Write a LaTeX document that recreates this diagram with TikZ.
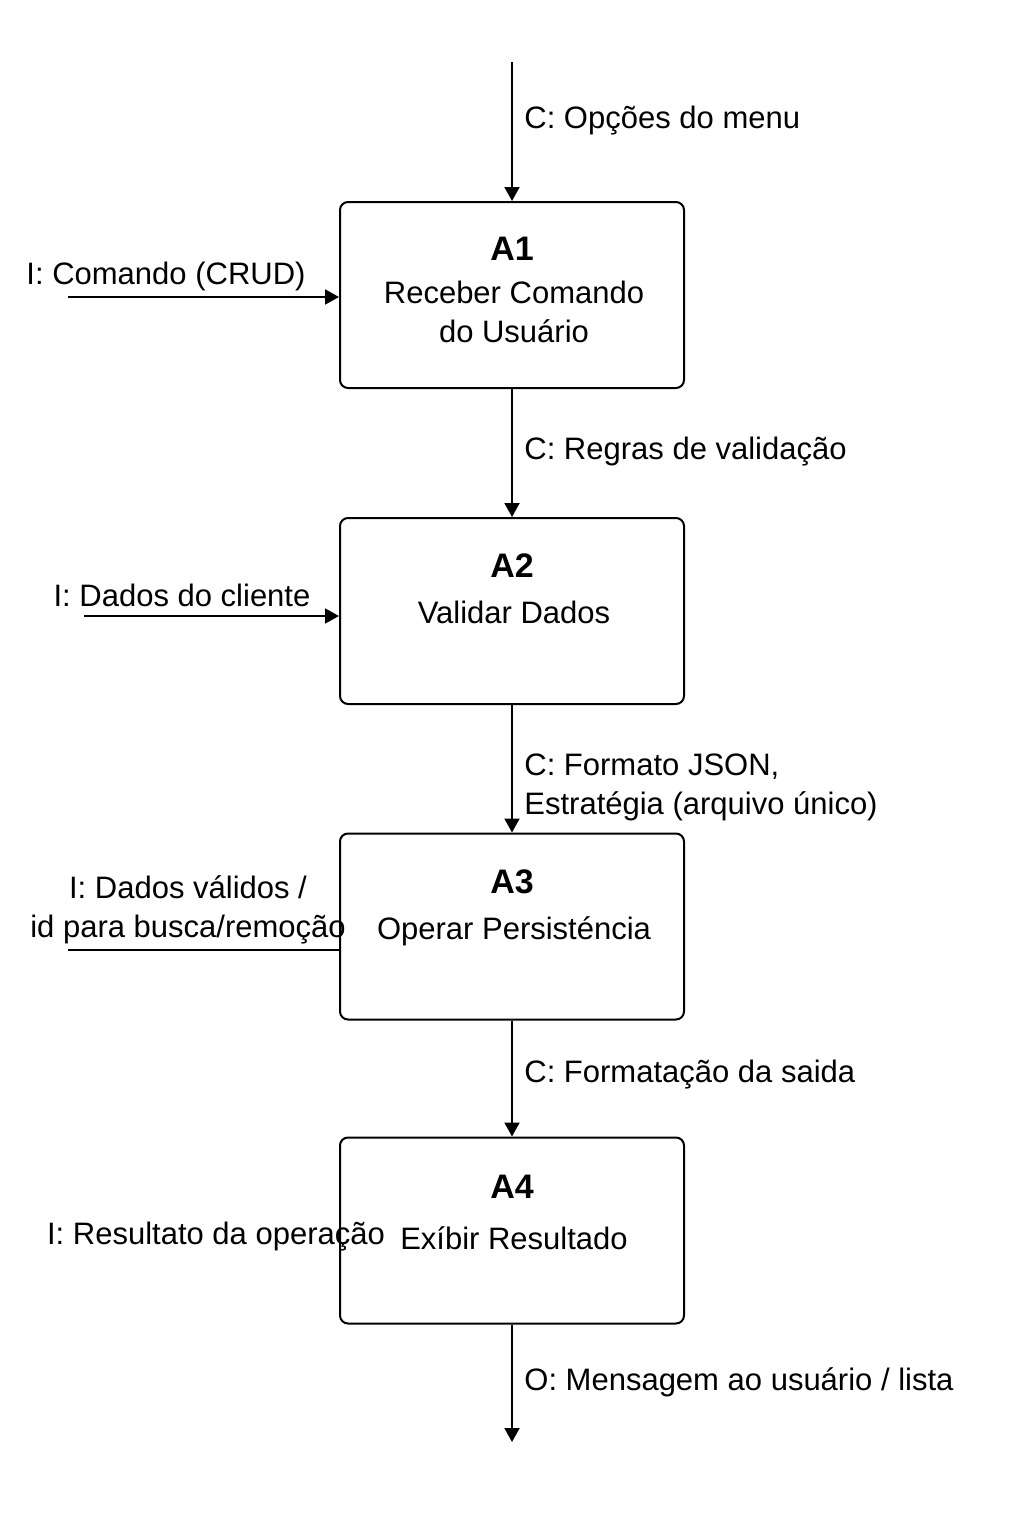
\documentclass[tikz,border=0pt]{standalone}
\usepackage{fontspec}
\setmainfont{Liberation Sans}
\usetikzlibrary{arrows.meta}

\begin{document}
\begin{tikzpicture}[
  x=0.5pt, y=-0.5pt,
  box/.style={
    rectangle,
    draw,
    rounded corners=4pt,
    line width=1pt,
    minimum width=172pt,
    minimum height=93pt,
    inner sep=0pt
  },
  title/.style={
    font=\fontsize{17}{20}\selectfont\bfseries,
    inner sep=0pt
  },
  txt/.style={
    font=\fontsize{15.5}{19.5}\selectfont,
    align=center,
    inner sep=0pt
  },
  flow/.style={
    -{Triangle[length=7pt,width=7.5pt]},
    line width=1pt
  },
  plain/.style={
    line width=1pt
  }
]

\path[use as bounding box, fill=white] (0,0) rectangle (1024,1536);

\node[box] (a1) at (512,295) {};
\node[box] (a2) at (512,611) {};
\node[box] (a3) at (512,926.5) {};
\node[box] (a4) at (512,1230.5) {};

\node[title] (a1t) at (512,249) {A1};
\node[txt] (a1x) at (514,311.5) {Receber Comando\\do Usuário};
\node[title] (a2t) at (512,566) {A2};
\node[txt] (a2x) at (514,612) {Validar Dados};
\node[title] (a3t) at (512,882) {A3};
\node[txt] (a3x) at (514,931) {Operar Persisténcia};
\node[title] (a4t) at (512,1187) {A4};
\node[txt] (a4x) at (514,1238) {Exíbir Resultado};

\coordinate (top) at (512,62);
\coordinate (bottom) at (512,1442);
\coordinate (in1) at (68,297);
\coordinate (in2) at (84,616);
\coordinate (in3) at (68,950);

% controls and output
\draw[flow] (top) -- (a1);
\draw[flow] (a1) -- (a2);
\draw[flow] (a2) -- (a3);
\draw[flow] (a3) -- (a4);
\draw[flow] (a4) -- (bottom);

% inputs
\draw[flow] (in1) -- (in1 -| a1.west);
\draw[flow] (in2) -- (in2 -| a2.west);
\draw[plain] (in3) -- (in3 -| a3.west);

\node[txt, anchor=west] (c1) at (524,121) {C: Opções do menu};
\node[txt, anchor=west] (c2) at (524,452) {C: Regras de validação};
\node[txt, anchor=west, align=left] (c3) at (524,787)
  {C: Formato JSON,\\Estratégia (arquivo único)};
\node[txt, anchor=west] (c4) at (524,1075) {C: Formatação da saida};
\node[txt, anchor=west] (o1) at (524,1382) {O: Mensagem ao usuário / lista};

\node[txt] (i1) at (166,276) {I: Comando (CRUD)};
\node[txt] (i2) at (182,595) {I: Dados do cliente};
\node[txt] (i3) at (188,909.5) {I: Dados válidos /\\id para busca/remoção};
\node[txt] (i4) at (216,1237) {I: Resultato da operação};

\end{tikzpicture}
\end{document}
